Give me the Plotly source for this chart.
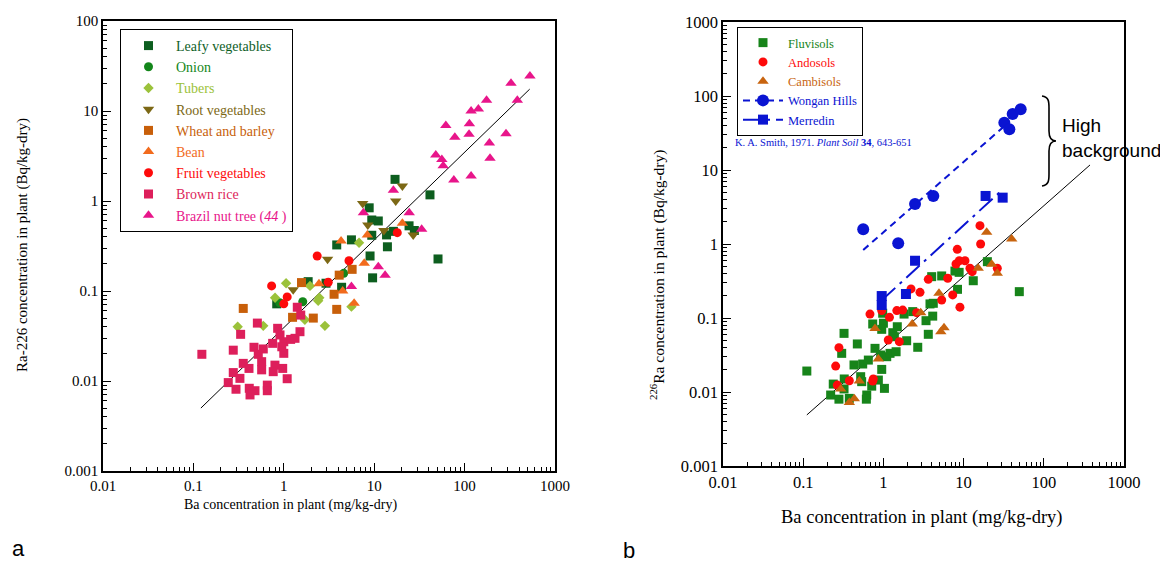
import plotly.graph_objects as go

# page body has an 8px margin; figure is sized to fill the rest of the 1168x565 window
OFF = 8
W, H = 1168 - OFF, 565 - OFF

# ---------------- Panel a data (Ba mg/kg-dry, Ra-226 Bq/kg-dry) ----------------
leafy_x = [17, 8.8, 9.4, 11.1, 3.85, 5.6, 9.4, 13.7, 16.3, 14, 9.0, 9.6, 24.3, 27.8, 1.86, 4.36, 0.835, 2.93, 41.4, 50.8]
leafy_y = [1.74, 0.84, 0.615, 0.6, 0.325, 0.37, 0.416, 0.42, 0.46, 0.31, 0.245, 0.14, 0.53, 0.47, 0.127, 0.11, 0.072, 0.122, 1.17, 0.227]
onion_x = [0.9, 1.62, 4.6]
onion_y = [0.074, 0.076, 0.157]
tubers_x = [0.309, 0.593, 1.71, 2.85, 2.4, 0.80, 1.06, 1.95, 2.47, 5.6, 6.8]
tubers_y = [0.040, 0.041, 0.048, 0.041, 0.078, 0.084, 0.122, 0.114, 0.084, 0.067, 0.344]
root_x = [20.5, 7.46, 17.3, 8.5, 12.8, 27, 3.05, 1.27]
root_y = [1.47, 0.94, 1.0, 0.54, 0.47, 0.42, 0.225, 0.103]
wheat_x = [0.356, 1.57, 4.1, 5.7, 3.6, 3.85, 1.25, 2.12]
wheat_y = [0.064, 0.124, 0.15, 0.174, 0.092, 0.0625, 0.051, 0.05]
bean_x = [4.3, 8.4, 20.5, 7.76, 2.45, 4.48, 6.0]
bean_y = [0.36, 0.42, 0.565, 0.203, 0.12, 0.1, 0.073]
fruit_x = [2.34, 5.26, 3.1, 0.733, 1.09, 1.0, 18]
fruit_y = [0.245, 0.217, 0.125, 0.114, 0.086, 0.072, 0.445]
rice_x = [0.124, 0.276, 0.333, 0.51, 0.855, 1.41, 1.54, 0.468, 0.593, 0.522, 0.356, 0.412,
          0.276, 0.327, 0.243, 0.296, 0.415, 0.48, 0.423, 0.569, 0.569, 0.657, 0.657, 0.798,
          0.972, 0.764, 1.09, 0.753, 0.908, 1.0, 1.19, 1.33, 1.51, 1.0, 0.95]
rice_y = [0.0198, 0.022, 0.033, 0.044, 0.0385, 0.066, 0.054, 0.0237, 0.0227, 0.0198, 0.0157, 0.0138,
          0.0124, 0.0107, 0.0096, 0.0081, 0.0083, 0.0078, 0.007, 0.0164, 0.0133, 0.009, 0.0078, 0.015,
          0.0138, 0.0127, 0.0106, 0.0262, 0.0325, 0.0273, 0.029, 0.0298, 0.0353, 0.0203, 0.024]
brazil_x = [528, 326, 175, 142, 118, 383, 62, 113, 78, 112, 287, 188, 48, 56, 58, 191, 76, 118,
            16.3, 24.4, 33.5, 7.6, 11.1, 13.2, 5.6]
brazil_y = [24.5, 20.3, 13.2, 10.5, 10.0, 13.2, 6.9, 7.2, 5.1, 5.5, 5.6, 4.4, 3.24, 2.9, 2.47, 2.98,
            1.71, 1.9, 1.32, 0.74, 0.485, 0.74, 0.186, 0.15, 0.112]
fit_a_x = [0.121, 525]
fit_a_y = [0.005, 17.5]

# ---------------- Panel b data ----------------
fluv_x = [0.111, 0.323, 0.302, 0.473, 0.237, 0.22, 0.279, 0.325, 0.323, 0.376, 0.43, 0.521, 0.536,
          0.62, 0.613, 0.552, 0.649, 0.786, 0.924, 0.953, 0.865, 0.715, 1.03, 1.1, 1.21, 1.44, 0.736,
          1.0, 0.98, 0.953, 1.31, 1.49, 1.37, 1.95, 2.68, 1.81, 2.32, 3.4, 3.63, 4.12, 3.81, 4.19,
          4.0, 5.33, 7.8, 8.8, 8.4, 13.2, 19.8, 49.5]
fluv_y = [0.0192, 0.062, 0.0333, 0.0446, 0.0128, 0.0091, 0.008, 0.015, 0.011, 0.0082, 0.0232, 0.0161,
          0.0138, 0.0091, 0.008, 0.0239, 0.027, 0.0389, 0.0316, 0.0202, 0.0145, 0.012, 0.0112, 0.03,
          0.0333, 0.035, 0.083, 0.085, 0.116, 0.0703, 0.0633, 0.0762, 0.0559, 0.0493, 0.0402, 0.113,
          0.122, 0.092, 0.0602, 0.106, 0.155, 0.158, 0.362, 0.37, 0.431, 0.414, 0.244, 0.319, 0.577, 0.227]
ando_x = [0.279, 0.254, 0.266, 0.376, 0.748, 0.736, 0.68, 0.953, 1.19, 1.47, 1.74, 1.15, 1.58, 2.21,
          2.86, 3.63, 2.6, 5.33, 6.34, 7.31, 9.0, 8.04, 8.34, 8.83, 10.4, 12.0, 12.8, 16.0, 16.3, 26.3]
ando_y = [0.0397, 0.0224, 0.0124, 0.0142, 0.015, 0.0141, 0.113, 0.126, 0.102, 0.126, 0.128, 0.0505,
          0.0479, 0.247, 0.222, 0.333, 0.118, 0.175, 0.344, 0.205, 0.14, 0.537, 0.847, 0.594, 0.594,
          0.47, 0.423, 1.77, 1.0, 0.47]
camb_x = [0.786, 0.294, 0.376, 0.434, 0.501, 0.865, 2.29, 2.92, 4.93, 5.2, 5.7, 15.2, 19.4, 22.4, 26.3, 39.8]
camb_y = [0.0724, 0.011, 0.0072, 0.0081, 0.0141, 0.0279, 0.083, 0.118, 0.216, 0.0653, 0.074, 0.47,
          1.44, 0.532, 0.402, 1.17]
wongan_x = [0.56, 1.53, 2.48, 4.19, 32.2, 37.2, 40.9, 51.5]
wongan_y = [1.58, 1.02, 3.47, 4.46, 43.5, 35.5, 57.1, 66]
merredin_x = [0.953, 0.953, 1.91, 2.48, 18.8, 30.7]
merredin_y = [0.198, 0.15, 0.211, 0.594, 4.46, 4.23]
wongan_fit_x = [0.56, 33]
wongan_fit_y = [0.83, 40]
merredin_fit_x = [0.96, 31]
merredin_fit_y = [0.175, 5.5]
fit_b_x = [0.111, 377]
fit_b_y = [0.0049, 11.7]

tick_vals = [0.001, 0.01, 0.1, 1, 10, 100, 1000]
tick_text = ["0.001", "0.01", "0.1", "1", "10", "100", "1000"]

SERIF = "Liberation Serif"
SANS = "Liberation Sans"
BLUE = "#0a14d2"


def gapped(vals):
    out = []
    for v in vals:
        out += [v, None]
    return out


def colored(text, color):
    return "<span style='color:%s'>%s</span>" % (color, text)


fig = go.Figure()

# ---- panel a ----
fig.add_trace(go.Scatter(x=fit_a_x, y=fit_a_y, mode="lines", line=dict(color="black", width=1),
                         showlegend=False, xaxis="x", yaxis="y"))
series_a = [
    (leafy_x, leafy_y, "Leafy vegetables", "#0d5e1f", "square", 9),
    (onion_x, onion_y, "Onion", "#13861a", "circle", 9),
    (tubers_x, tubers_y, "Tubers", "#9bc23a", "diamond", 8),
    (root_x, root_y, "Root vegetables", "#7c6815", "triangle-down", 10),
    (wheat_x, wheat_y, "Wheat and barley", "#c85f0a", "square", 9),
    (bean_x, bean_y, "Bean", "#f26b1d", "triangle-up", 10),
    (fruit_x, fruit_y, "Fruit vegetables", "#fe0a0a", "circle", 9),
    (rice_x, rice_y, "Brown rice", "#dd1f5b", "square", 9),
    (brazil_x, brazil_y, "Brazil nut tree (<i>44</i> )", "#e8158a", "triangle-up", 10),
]
for xs, ys, name, col, sym, sz in series_a:
    fig.add_trace(go.Scatter(x=xs, y=ys, mode="markers", name=colored(name, col),
                             marker=dict(color=col, symbol=sym, size=sz, line=dict(width=0)),
                             xaxis="x", yaxis="y", legend="legend"))

# ---- panel b ----
fig.add_trace(go.Scatter(x=fit_b_x, y=fit_b_y, mode="lines", line=dict(color="black", width=1),
                         showlegend=False, xaxis="x2", yaxis="y2"))
fig.add_trace(go.Scatter(x=wongan_fit_x, y=wongan_fit_y, mode="lines",
                         line=dict(color=BLUE, width=2, dash="7px,5px"),
                         showlegend=False, xaxis="x2", yaxis="y2"))
fig.add_trace(go.Scatter(x=merredin_fit_x, y=merredin_fit_y, mode="lines",
                         line=dict(color=BLUE, width=2, dash="18px,6px,3px,6px"),
                         showlegend=False, xaxis="x2", yaxis="y2"))
series_b = [
    (fluv_x, fluv_y, "Fluvisols", "#17841a", "square", 9),
    (ando_x, ando_y, "Andosols", "#fe0a0a", "circle", 9),
    (camb_x, camb_y, "Cambisols", "#c8640f", "triangle-up", 10),
]
for xs, ys, name, col, sym, sz in series_b:
    fig.add_trace(go.Scatter(x=xs, y=ys, mode="markers", name=colored(name, col),
                             marker=dict(color=col, symbol=sym, size=sz, line=dict(width=0)),
                             xaxis="x2", yaxis="y2", legend="legend2"))
fig.add_trace(go.Scatter(x=gapped(wongan_x), y=gapped(wongan_y), mode="lines+markers",
                         connectgaps=False, name=colored("Wongan Hills", BLUE),
                         line=dict(color=BLUE, width=2, dash="7px,5px"),
                         marker=dict(color=BLUE, symbol="circle", size=12, line=dict(width=0)),
                         xaxis="x2", yaxis="y2", legend="legend2"))
fig.add_trace(go.Scatter(x=gapped(merredin_x), y=gapped(merredin_y), mode="lines+markers",
                         connectgaps=False, name=colored("Merredin", BLUE),
                         line=dict(color=BLUE, width=2, dash="18px,6px,3px,6px"),
                         marker=dict(color=BLUE, symbol="square", size=10, line=dict(width=0)),
                         xaxis="x2", yaxis="y2", legend="legend2"))

minor_vals = [m * 10 ** e for e in range(-3, 3) for m in range(2, 10)]


def axis(domain, rng, fsize, anchor):
    return dict(type="log", domain=domain, range=rng, anchor=anchor, automargin=False,
                tickmode="array", tickvals=tick_vals, ticktext=tick_text,
                ticks="inside", ticklen=8, tickwidth=1.3, tickcolor="black",
                showline=True, linecolor="black", linewidth=1.6, mirror=True,
                showgrid=False, zeroline=False,
                tickfont=dict(family=SERIF, size=fsize, color="black"),
                minor=dict(tickmode="array", tickvals=minor_vals, ticks="inside", ticklen=4,
                           tickwidth=1, tickcolor="black", showgrid=False))


def px_x(p):
    return (p - OFF) / W


def px_y(p):
    return 1 - (p - OFF) / H


def note(text, x, y, size, family=SERIF, color="black", angle=0, xanchor="center", align="center"):
    return dict(text=text, x=px_x(x), y=px_y(y), xref="paper", yref="paper", showarrow=False,
                xanchor=xanchor, yanchor="middle", align=align, textangle=angle,
                font=dict(family=family, size=size, color=color))


# brace path (paper coords)
brace_pts = [("M", [(1042, 96)]),
             ("C", [(1049, 97), (1049, 102), (1049, 108)]),
             ("L", [(1049, 131)]),
             ("C", [(1049, 138), (1051, 141), (1056, 141)]),
             ("C", [(1051, 141), (1049, 144), (1049, 151)]),
             ("L", [(1049, 174)]),
             ("C", [(1049, 180), (1049, 185), (1042, 186)])]
path = " ".join(cmd + " " + " ".join("%.5f,%.5f" % (px_x(a), px_y(b)) for a, b in pts)
                for cmd, pts in brace_pts)

fig.update_layout(
    width=W, height=H, margin=dict(l=0, r=0, t=0, b=0, pad=0, autoexpand=False),
    paper_bgcolor="white", plot_bgcolor="white",
    xaxis=axis([px_x(103), px_x(555)], [-2, 3], 15, "y"),
    yaxis=axis([px_y(471), px_y(21)], [-3, 2], 15, "x"),
    xaxis2=axis([px_x(723), px_x(1124)], [-2, 3], 16.5, "y2"),
    yaxis2=axis([px_y(466), px_y(22)], [-3, 3], 16.5, "x2"),
    legend=dict(x=px_x(120), y=px_y(29), xanchor="left", yanchor="top", bgcolor="white",
                bordercolor="black", borderwidth=1, font=dict(family=SERIF, size=14, color="black"),
                itemsizing="trace", tracegroupgap=0, itemwidth=45),
    legend2=dict(x=px_x(737), y=px_y(27), xanchor="left", yanchor="top", bgcolor="white",
                 bordercolor="black", borderwidth=1, font=dict(family=SERIF, size=12.5, color="black"),
                 itemsizing="trace", tracegroupgap=0, itemwidth=40),
    shapes=[dict(type="path", path=path, xref="paper", yref="paper",
                 line=dict(color="black", width=1.6))],
    annotations=[
        note("Ra-226 concentration in plant (Bq/kg-dry)", 22, 245, 15, angle=-90),
        note("Ba concentration in plant (mg/kg-dry)", 290, 505, 14),
        note("<sup>226</sup>Ra concentration in plant (Bq/kg-dry)", 657, 275, 15.5, angle=-90),
        note("Ba concentration in plant (mg/kg-dry)", 922, 517, 18.5),
        note("a", 18, 548, 22, family=SANS),
        note("b", 629, 550, 22, family=SANS),
        note("High<br>background", 1060, 138, 19, family=SANS, xanchor="left", align="left"),
        note("K. A. Smith, 1971. <i>Plant Soil</i> <b>34</b>, 643-651", 733, 142, 10.5,
             color=BLUE, xanchor="left", align="left"),
    ],
)

fig.write_html("out.html")
